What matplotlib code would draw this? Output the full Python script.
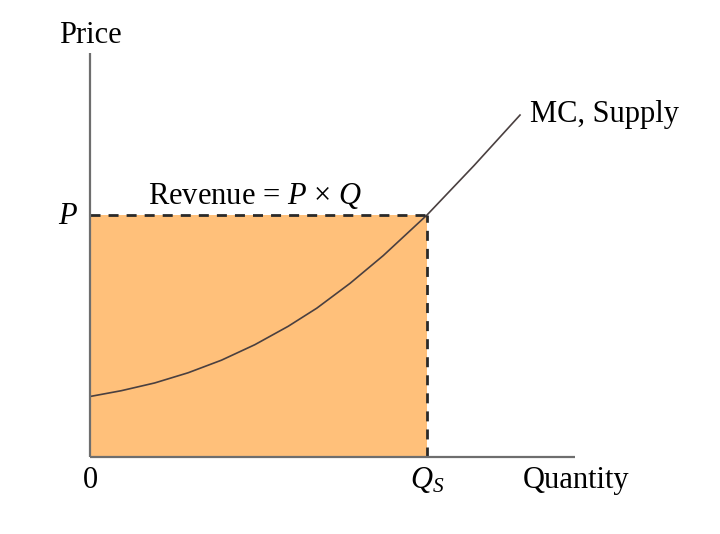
import matplotlib
matplotlib.use('Agg')
import matplotlib.pyplot as plt
from matplotlib.patches import Rectangle

plt.rcParams['font.family'] = ['Liberation Serif', 'DejaVu Serif']
plt.rcParams['mathtext.fontset'] = 'custom'
plt.rcParams['mathtext.rm'] = 'Liberation Serif'
plt.rcParams['mathtext.it'] = 'Liberation Serif:italic'

# values (Qs = 10, P = 10)
q_s = 10.0
price = 10.0
mc_q = [0.0, 0.93, 1.92, 2.91, 3.9, 4.89, 5.88, 6.73, 7.72, 8.7, 10.0, 11.4, 12.76]
mc_p = [2.5, 2.74, 3.06, 3.48, 4.0, 4.64, 5.4, 6.15, 7.18, 8.32, 10.0, 12.05, 14.13]
x_end = 14.4
y_end = 16.7

FILL = '#FFC07A'
AXIS = '#6e6e6e'

fig = plt.figure(figsize=(7.2, 5.34), dpi=100)
ax = fig.add_axes([0, 0, 1, 1])
ax.set_xlim(-90 / 33.7, (720 - 90) / 33.7)
ax.set_ylim((457 - 534) / 24.2, 457 / 24.2)
ax.axis('off')

ax.add_patch(Rectangle((0, 0), q_s, price, facecolor=FILL, edgecolor='none', zorder=1))
ax.plot(mc_q, mc_p, color='#4a4040', lw=1.2, zorder=3, solid_joinstyle='round')
dash = (0, (3.6, 2.9))
ax.plot([0, q_s], [price, price], color='#2a2a2a', lw=2, ls=dash, zorder=4)
ax.plot([q_s, q_s], [0, price], color='#2a2a2a', lw=2, ls=dash, zorder=4)

ax.plot([0, 0], [0, y_end], color=AXIS, lw=1.6, zorder=5, solid_capstyle='butt')
ax.plot([0, x_end], [0, 0], color=AXIS, lw=1.6, zorder=5, solid_capstyle='butt')

fs = 22
ax.text(0, 17.1, 'Price', ha='center', va='baseline', fontsize=fs)
ax.text(-0.65, 9.63, '$P$', ha='center', va='baseline', fontsize=fs)
ax.text(0, -1.28, '0', ha='center', va='baseline', fontsize=fs)
ax.text(q_s, -1.28, '$Q_S$', ha='center', va='baseline', fontsize=fs)
ax.text(14.42, -1.28, 'Quantity', ha='center', va='baseline', fontsize=fs)
ax.text(13.06, 13.85, 'MC, Supply', ha='left', va='baseline', fontsize=fs)
ax.text(4.9, 10.45, r'Revenue = $P$ × $Q$', ha='center', va='baseline', fontsize=fs)

fig.savefig('out.png', dpi=100, facecolor='white')
